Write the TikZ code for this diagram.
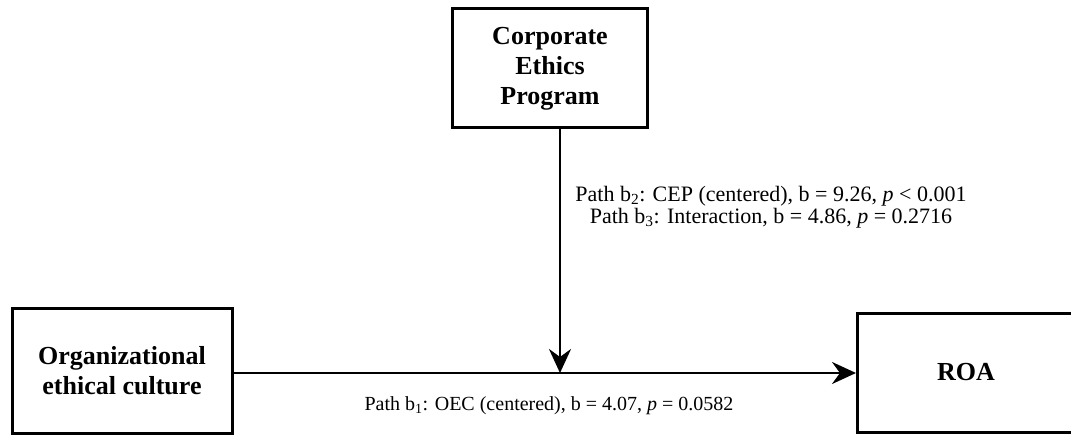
\documentclass[tikz,border=0pt]{standalone}
\usepackage{fontspec}
\setmainfont{Liberation Serif}
\usetikzlibrary{arrows.meta}
\begin{document}
\begin{tikzpicture}[x=1pt,y=-1pt,
  varbox/.style={draw, line width=3pt, inner sep=0pt, font=\bfseries\fontsize{26}{30}\selectfont, align=center},
  path label/.style={font=\fontsize{20}{22}\selectfont, align=center, inner sep=0pt},
  conn/.style={line width=2.8pt, -{Stealth[length=24pt,width=22pt,inset=8pt]}}]
  \useasboundingbox (0,0) rectangle (1071,435);
  % variable boxes
  \node[varbox, minimum width=195pt, minimum height=119pt] (cep) at (550,68.5) {Corporate\\Ethics\\Program};
  \node[varbox, minimum width=220pt, minimum height=124pt] (oec) at (122,371) {Organizational\\ethical culture};
  \begin{scope}
    \clip (0,0) rectangle (1071,435);
    \node[varbox, minimum width=230pt, minimum height=119pt, anchor=west] (roa) at (856,373) {};
  \end{scope}
  \node[font=\bfseries\fontsize{26}{30}\selectfont] (roalbl) at (966,372) {ROA};
  % main effect and moderation paths
  \coordinate (meet) at (560,373);
  \draw[conn] (oec.east |- meet) -- (roa.west |- meet);
  \draw[conn] (cep.south -| meet) -- (meet);
  % path estimates
  \node[path label, font=\fontsize{22}{22}\selectfont] (b23) at (771,207) {Path b\textsubscript{2}: CEP (centered), b = 9.26, \textit{p} < 0.001\\Path b\textsubscript{3}: Interaction, b = 4.86, \textit{p} = 0.2716};
  \node[path label] (b1) at (549,406) {Path b\textsubscript{1}: OEC (centered), b = 4.07, \textit{p} = 0.0582};
\end{tikzpicture}
\end{document}
